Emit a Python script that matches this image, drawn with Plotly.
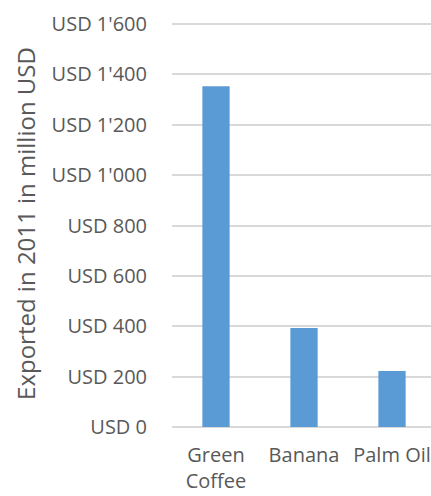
import plotly.graph_objects as go

categories = ["Green<br>Coffee", "Banana", "Palm Oil"]
values = [1353, 393, 222]
tick_vals = [0, 200, 400, 600, 800, 1000, 1200, 1400, 1600]
tick_text = ["USD 0", "USD 200", "USD 400", "USD 600", "USD 800",
             "USD 1'000", "USD 1'200", "USD 1'400", "USD 1'600"]

fig = go.Figure(go.Bar(x=[0, 1, 2], y=values, marker_color="#5B9BD5",
                       width=0.31, marker_line_width=0))

font = dict(family="Open Sans", size=20, color="#595959")
tfont = dict(family="Open Sans", size=24, color="#595959")
fig.update_layout(
    width=431, height=496,
    margin=dict(l=172, r=0, t=20, b=69),
    plot_bgcolor="white", paper_bgcolor="white",
    font=font, showlegend=False,
    xaxis=dict(range=[-0.5, 2.443], tickvals=[0, 1, 2], ticktext=categories,
               showgrid=False, zeroline=False, showline=False, automargin=False,
               ticks="", ticklabelstandoff=14, tickfont=font),
    yaxis=dict(range=[0, 1616], tickvals=tick_vals, ticktext=tick_text,
               showgrid=True, gridcolor="#D9D9D9", gridwidth=2,
               zeroline=True, zerolinecolor="#D9D9D9", zerolinewidth=2,
               showline=False, ticks="", automargin=False,
               ticklabelstandoff=24, tickfont=font,
               title=dict(text="Exported in 2011 in million USD", font=tfont,
                          standoff=9)),
)
fig.write_html("out.html")
